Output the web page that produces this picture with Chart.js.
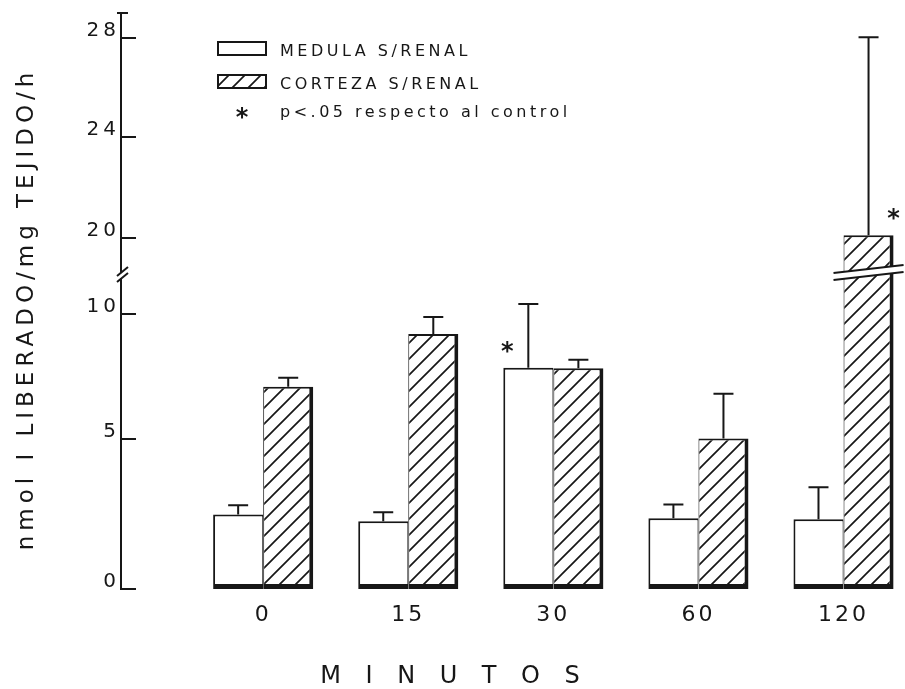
<!DOCTYPE html>
<html>
<head>
<meta charset="utf-8">
<style>html,body{margin:0;padding:0;background:#fff;overflow:hidden}canvas{display:block}</style>
<script src="https://cdn.jsdelivr.net/npm/chart.js@4/dist/chart.umd.min.js"></script>
</head>
<body>
<canvas id="c" width="905" height="689"></canvas>
<script>
// ---------------- data ----------------
const MINUTES = ['0', '15', '30', '60', '120'];
const MEDULA = [2.48, 2.25, 7.84, 2.35, 2.32];
const MEDULA_ERR = [0.30, 0.30, 2.56, 0.46, 1.06];
const CORTEZA = [7.08, 9.20, 7.82, 5.00, 20.12];
const CORTEZA_ERR = [0.36, 0.68, 0.34, 1.80, 7.91];
const MEDULA_SIG = [false, false, true, false, false];
const CORTEZA_SIG = [false, false, false, false, true];
const Y_TICKS = [0, 5, 10, 20, 24, 28];
const Y_TICK_LABELS = ['0', '5', '10', '20', '24', '28'];
const SERIES_LABELS = ['MEDULA S/RENAL', 'CORTEZA S/RENAL'];
const SIG_NOTE = 'p<.05 respecto al control';
const Y_TITLE = 'nmol I LIBERADO/mg TEJIDO/h';
const X_TITLE = ['M', 'I', 'N', 'U', 'T', 'O', 'S'].join(' \u2004');

// broken axis: value -> fraction of axis height (hand-drawn original)
const BREAK_LOW = 11.6, BREAK_HIGH = 18.56;
const Y_KNOTS = [[0, 0], [5, 0.2612], [10, 0.4775], [BREAK_LOW, 0.5467], [BREAK_HIGH, 0.5467],
                 [20, 0.6090], [24, 0.7855], [28, 0.9567], [29, 1]];
const X_MIN = -0.98, X_MAX = 4.41;

const INK = '#171717';
const FONT = "'DejaVu Sans', 'Liberation Sans', sans-serif";

// ---------------- broken linear scale ----------------
class BrokenLinearScale extends Chart.LinearScale {
  buildTicks() { return Y_TICKS.map(v => ({ value: v })); }
  _frac(value) {
    const k = Y_KNOTS;
    if (value <= k[0][0]) return k[0][1];
    for (let i = 0; i < k.length - 1; i++) {
      const v0 = k[i][0], f0 = k[i][1], v1 = k[i + 1][0], f1 = k[i + 1][1];
      if (value <= v1) return v1 === v0 ? f1 : f0 + (value - v0) / (v1 - v0) * (f1 - f0);
    }
    return 1;
  }
  getPixelForValue(value) { return this.getPixelForDecimal(this._frac(value)); }
  getValueForPixel(pixel) {
    const d = this.getDecimalForPixel(pixel), k = Y_KNOTS;
    for (let i = 0; i < k.length - 1; i++) {
      const v0 = k[i][0], f0 = k[i][1], v1 = k[i + 1][0], f1 = k[i + 1][1];
      if (d <= f1 && f1 > f0) return v0 + (d - f0) / (f1 - f0) * (v1 - v0);
    }
    return k[k.length - 1][0];
  }
  drawLabels(area) {
    const c = this.ctx; c.save(); c.letterSpacing = '4px';
    super.drawLabels(area); c.restore();
  }
  drawTitle() {
    const c = this.ctx; c.save(); c.letterSpacing = '5px'; c.translate(0, 8);
    super.drawTitle(); c.restore();
  }
}
BrokenLinearScale.id = 'brokenLinear';
BrokenLinearScale.defaults = Chart.LinearScale.defaults;
Chart.register(BrokenLinearScale);

// ---------------- hatch pattern ----------------
const canvas = document.getElementById('c');
const ctx0 = canvas.getContext('2d');
function makeHatch() {
  const s = 16, c = document.createElement('canvas');
  c.width = s; c.height = s;
  const g = c.getContext('2d');
  g.fillStyle = '#fff'; g.fillRect(0, 0, s, s);
  g.strokeStyle = INK; g.lineWidth = 1.7;
  g.beginPath();
  g.moveTo(-2, s + 2); g.lineTo(s + 2, -2);
  g.moveTo(-2, 2); g.lineTo(2, -2);
  g.moveTo(s - 2, s + 2); g.lineTo(s + 2, s - 2);
  g.stroke();
  return ctx0.createPattern(c, 'repeat');
}
const HATCH = makeHatch();

// ---------------- plugins ----------------
const SPACING = '3px';
const spacing = {
  id: 'spacing',
  beforeUpdate(chart) { chart.ctx.letterSpacing = SPACING; },
  beforeLayout(chart) { chart.ctx.letterSpacing = SPACING; },
  beforeDraw(chart) { chart.ctx.letterSpacing = SPACING; }
};

function drawStar(ctx, x, y) {
  ctx.save();
  ctx.letterSpacing = '0px';
  ctx.font = 'bold 24px ' + FONT;
  ctx.fillStyle = INK;
  ctx.textAlign = 'center';
  ctx.textBaseline = 'alphabetic';
  const m = ctx.measureText('*');
  const off = (m.actualBoundingBoxAscent - m.actualBoundingBoxDescent) / 2;
  ctx.fillText('*', x, y + off);
  ctx.restore();
}

const errorBars = {
  id: 'errorBars',
  afterDatasetsDraw(chart) {
    const ctx = chart.ctx, ys = chart.scales.y;
    chart.data.datasets.forEach((ds, di) => {
      const meta = chart.getDatasetMeta(di);
      meta.data.forEach((bar, i) => {
        const v = ds.data[i].y;
        const top = bar.y;
        const cap = ys.getPixelForValue(v + ds.errors[i]);
        const L = bar.x - bar.width / 2, R = bar.x + bar.width / 2;
        ctx.save();
        // axis break across tall bars
        if (v > BREAK_HIGH) {
          const yb = ys.getPixelForValue(BREAK_LOW);
          ctx.fillStyle = '#fff';
          ctx.beginPath();
          ctx.moveTo(L - 1, yb - 2); ctx.lineTo(R + 1, yb - 8);
          ctx.lineTo(R + 1, yb - 1); ctx.lineTo(L - 1, yb + 5);
          ctx.closePath(); ctx.fill();
          ctx.strokeStyle = INK; ctx.lineWidth = 2;
          ctx.beginPath();
          ctx.moveTo(L - 10, yb - 1); ctx.lineTo(R + 10, yb - 9);
          ctx.moveTo(L - 10, yb + 6); ctx.lineTo(R + 10, yb - 2);
          ctx.stroke();
        }
        // error bar (upper)
        ctx.strokeStyle = INK; ctx.lineWidth = 2;
        ctx.beginPath();
        ctx.moveTo(bar.x, top); ctx.lineTo(bar.x, cap);
        ctx.moveTo(bar.x - 10, cap); ctx.lineTo(bar.x + 10, cap);
        ctx.stroke();
        ctx.restore();
        if (ds.sig[i]) {
          const sx = ds.sigSide === 'left' ? L + 4 : R;
          drawStar(ctx, sx, top - 21);
        }
      });
    });
  }
};

const axisDecor = {
  id: 'axisDecor',
  afterDraw(chart) {
    const ctx = chart.ctx, ys = chart.scales.y, x0 = chart.chartArea.left;
    ctx.save();
    ctx.strokeStyle = INK; ctx.lineWidth = 2;
    ctx.beginPath();
    ys.ticks.forEach(t => {
      const p = Math.round(ys.getPixelForValue(t.value));
      ctx.moveTo(x0, p); ctx.lineTo(x0 + 15, p);
    });
    const top = chart.chartArea.top;
    ctx.moveTo(x0 - 4, top); ctx.lineTo(x0 + 7, top);
    ctx.stroke();
    // break marks on the axis
    const yb = ys.getPixelForValue(BREAK_LOW);
    ctx.fillStyle = '#fff';
    ctx.fillRect(x0 - 2, yb - 1, 4, 5);
    ctx.beginPath();
    ctx.moveTo(x0 - 4, yb + 2); ctx.lineTo(x0 + 7, yb - 7);
    ctx.moveTo(x0 - 4, yb + 8); ctx.lineTo(x0 + 7, yb - 1);
    ctx.stroke();
    ctx.restore();
  }
};

const legendPlugin = {
  id: 'customLegend',
  afterDraw(chart) {
    const ctx = chart.ctx, a = chart.chartArea;
    const bx = a.left + 97, tx = a.left + 159;
    const rows = [a.top + 39, a.top + 72, a.top + 100];
    ctx.save();
    ctx.letterSpacing = '3.5px';
    ctx.font = '16px ' + FONT;
    ctx.fillStyle = INK;
    ctx.textBaseline = 'middle';
    ctx.textAlign = 'left';
    chart.data.datasets.forEach((ds, i) => {
      const cy = rows[i];
      ctx.fillStyle = ds.backgroundColor;
      ctx.fillRect(bx, cy - 10, 48, 13);
      ctx.strokeStyle = INK; ctx.lineWidth = 2;
      ctx.strokeRect(bx, cy - 10, 48, 13);
      ctx.fillStyle = INK;
      ctx.fillText(ds.label, tx, cy);
    });
    ctx.fillText(SIG_NOTE, tx, rows[2]);
    ctx.restore();
    drawStar(ctx, bx + 24, rows[2]);
  }
};

// ---------------- chart ----------------
new Chart(ctx0, {
  type: 'bar',
  data: {
    datasets: [
      {
        label: SERIES_LABELS[0],
        data: MEDULA.map((v, i) => ({ x: i, y: v })),
        errors: MEDULA_ERR, sig: MEDULA_SIG, sigSide: 'left',
        backgroundColor: '#ffffff', borderColor: INK,
        borderWidth: { top: 2, left: 2, right: 1, bottom: 5 }, borderSkipped: false
      },
      {
        label: SERIES_LABELS[1],
        data: CORTEZA.map((v, i) => ({ x: i, y: v })),
        errors: CORTEZA_ERR, sig: CORTEZA_SIG, sigSide: 'right',
        backgroundColor: HATCH, borderColor: INK,
        borderWidth: { top: 2, left: 1, right: 4, bottom: 5 }, borderSkipped: false
      }
    ]
  },
  options: {
    responsive: false,
    animation: false,
    devicePixelRatio: 1,
    events: [],
    categoryPercentage: 0.69,
    barPercentage: 1.0,
    layout: { padding: { top: 13, right: 2, bottom: 0, left: 0 } },
    plugins: {
      legend: { display: false },
      tooltip: { enabled: false },
      title: {
        display: true, position: 'bottom', text: X_TITLE, color: INK,
        font: { family: FONT, size: 24, weight: 'normal', lineHeight: 1 },
        padding: { top: 24, bottom: 0 }
      }
    },
    scales: {
      x: {
        type: 'linear', min: X_MIN, max: X_MAX, offset: false,
        grid: { display: false, drawTicks: false },
        border: { display: false },
        afterBuildTicks: s => { s.ticks = MINUTES.map((_, i) => ({ value: i })); },
        ticks: {
          autoSkip: false, maxRotation: 0, padding: 15, color: INK,
          font: { family: FONT, size: 22, lineHeight: 1 },
          callback: v => MINUTES[v]
        }
      },
      y: {
        type: 'brokenLinear', min: 0, max: 29,
        grid: { display: false, drawTicks: false, tickLength: 0 },
        border: { display: true, color: INK, width: 2 },
        afterFit: s => { s.width = 121; },
        ticks: {
          autoSkip: false, padding: 1, labelOffset: -7, color: INK,
          font: { family: FONT, size: 20, lineHeight: 1 },
          callback: (v, i) => Y_TICK_LABELS[i]
        },
        title: {
          display: true, text: Y_TITLE, color: INK,
          font: { family: FONT, size: 23, lineHeight: 1.2 },
          padding: { top: 13, bottom: 0 }
        }
      }
    }
  },
  plugins: [spacing, errorBars, axisDecor, legendPlugin]
});
</script>
</body>
</html>
